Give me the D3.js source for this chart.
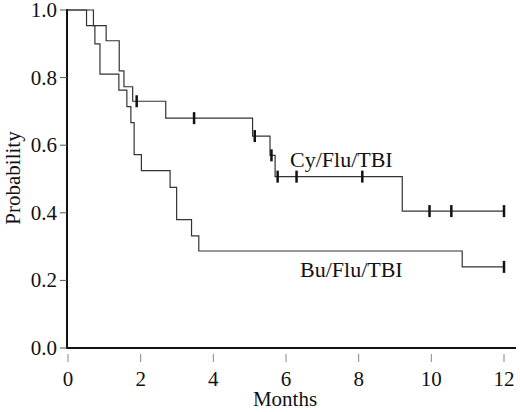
<!DOCTYPE html><html><head><script src="https://cdn.jsdelivr.net/npm/d3@7"></script>
<style>body{margin:0;background:#fff}text{font-family:"Liberation Serif","DejaVu Serif",serif;fill:#111}</style></head><body><svg id="c" width="520" height="412"></svg><script>
const cyTimes=[0,0.70,1.05,1.41,1.54,1.78,2.69,5.08,5.56,5.70,9.2,12];
const cyVals=[1.0,0.954,0.909,0.82,0.773,0.73,0.68,0.627,0.57,0.507,0.405,0.405];
const cyCensor=[1.89,3.47,5.14,5.60,5.77,6.29,8.1,9.95,10.55,12.0];
const buTimes=[0,0.51,0.74,0.88,1.40,1.62,1.73,1.82,2.02,2.81,2.99,3.40,3.60,10.85,12];
const buVals=[1.0,0.954,0.90,0.81,0.763,0.714,0.667,0.572,0.525,0.475,0.38,0.332,0.287,0.24,0.24];
const buCensor=[12.0];
const xTicks=[0,2,4,6,8,10,12];
const yTicks=[0,0.2,0.4,0.6,0.8,1.0];
const svg=d3.select("#c");
const x=d3.scaleLinear().domain([0,12]).range([68,504]);
const y=d3.scaleLinear().domain([0,1]).range([348,10]);
svg.append("line").attr("x1",67).attr("x2",516).attr("y1",348).attr("y2",348).attr("stroke","#111").attr("stroke-width",2);
svg.append("line").attr("x1",67).attr("x2",67).attr("y1",9).attr("y2",349).attr("stroke","#111").attr("stroke-width",2);
yTicks.forEach(t=>{svg.append("line").attr("x1",60).attr("x2",67).attr("y1",y(t)).attr("y2",y(t)).attr("stroke","#555");
svg.append("text").attr("x",57).attr("y",y(t)+7).attr("text-anchor","end").attr("font-size",21).text(t.toFixed(1));});
xTicks.forEach(t=>{svg.append("line").attr("x1",x(t)).attr("x2",x(t)).attr("y1",354).attr("y2",362).attr("stroke","#888");
svg.append("text").attr("x",x(t)).attr("y",386).attr("text-anchor","middle").attr("font-size",21).text(t);});
svg.append("text").attr("x",285).attr("y",406).attr("text-anchor","middle").attr("font-size",21).text("Months");
svg.append("text").attr("transform","translate(20,178) rotate(-90)").attr("text-anchor","middle").attr("font-size",21).text("Probability");
const line=d3.line().x(d=>x(d[0])).y(d=>y(d[1])).curve(d3.curveStepAfter);
function draw(ts,vs,cs){const pts=ts.map((t,i)=>[t,vs[i]]);
svg.append("path").attr("d",line(pts)).attr("fill","none").attr("stroke","#333").attr("stroke-width",1.2);
cs.forEach(c=>{let v=vs[0];ts.forEach((t,i)=>{if(t<=c)v=vs[i];});
svg.append("line").attr("x1",x(c)).attr("x2",x(c)).attr("y1",y(v)-6).attr("y2",y(v)+6).attr("stroke","#111").attr("stroke-width",2.5);});}
draw(buTimes,buVals,buCensor);draw(cyTimes,cyVals,cyCensor);
svg.append("text").attr("x",290).attr("y",167).attr("font-size",22).text("Cy/Flu/TBI");
svg.append("text").attr("x",300).attr("y",277).attr("font-size",22).text("Bu/Flu/TBI");
</script></body></html>
